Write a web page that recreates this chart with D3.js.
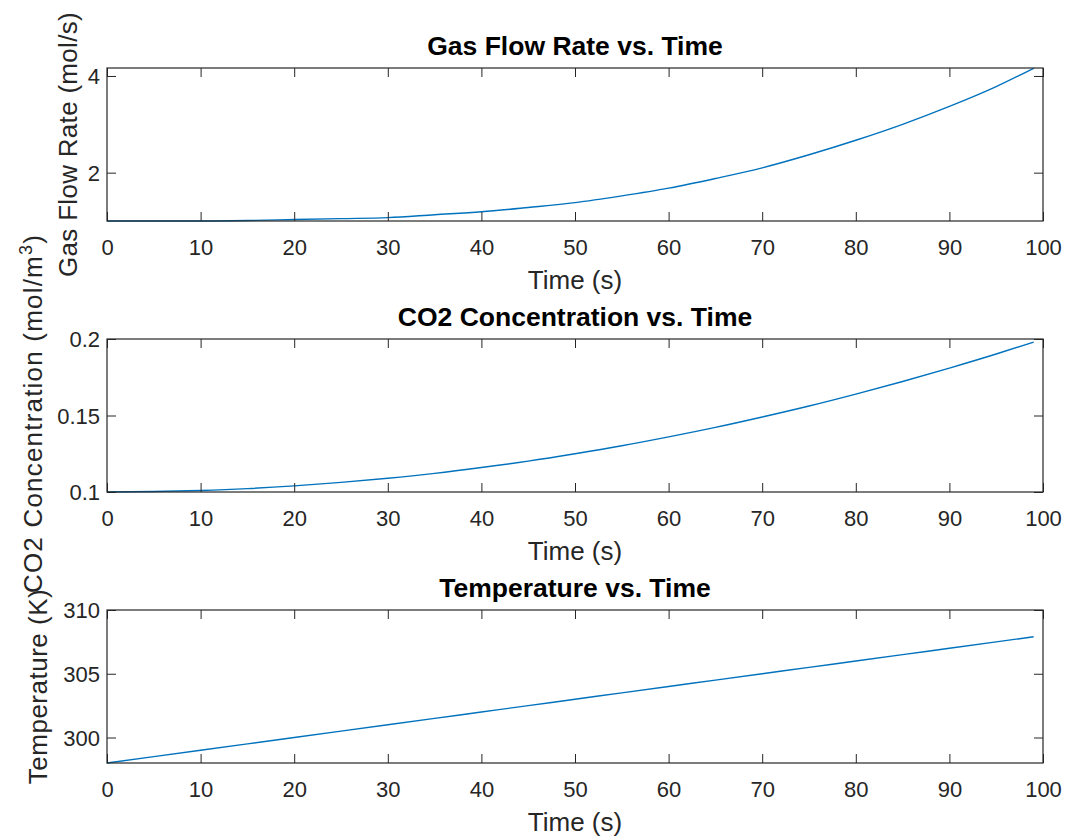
<!DOCTYPE html>
<html>
<head>
<meta charset="utf-8">
<script src="https://cdn.jsdelivr.net/npm/d3@7"></script>
<style>
  html, body { margin: 0; padding: 0; background: #fff; }
  text { font-family: "Liberation Sans", Arial, Helvetica, sans-serif; }
</style>
</head>
<body>
<svg id="chart" width="1070" height="839"></svg>
<script>
// ---- data ----
const time = [0, 5, 10, 15, 20, 25, 30, 35, 40, 45, 50, 55, 60, 65, 70, 75, 80, 85, 90, 95, 99];
const gasFlow = [1.00, 1.00, 1.00, 1.01, 1.03, 1.05, 1.07, 1.13, 1.19, 1.28, 1.38, 1.52, 1.68, 1.88, 2.10, 2.37, 2.67, 3.00, 3.37, 3.78, 4.16];
const co2Conc = [0.100, 0.1003, 0.101, 0.1022, 0.104, 0.1063, 0.109, 0.1122, 0.116, 0.1202, 0.125, 0.1302, 0.136, 0.1422, 0.149, 0.1562, 0.164, 0.1722, 0.181, 0.1902, 0.198];
const temperature = [298.0, 298.5, 299.0, 299.5, 300.0, 300.5, 301.0, 301.5, 302.0, 302.5, 303.0, 303.5, 304.0, 304.5, 305.0, 305.5, 306.0, 306.5, 307.0, 307.5, 307.9];

const xDomain = [0, 100];
const xTicks = [0, 10, 20, 30, 40, 50, 60, 70, 80, 90, 100];

const titles = ["Gas Flow Rate vs. Time", "CO2 Concentration vs. Time", "Temperature vs. Time"];
const xLabel = "Time (s)";

const gasDomain = [1, 4.165];
const gasTicks = [2, 4];
const co2Domain = [0.1, 0.2];
const co2Ticks = [0.1, 0.15, 0.2];
const tempDomain = [298, 310];
const tempTicks = [300, 305, 310];

// ---- layout ----
const svg = d3.select("#chart");
const left = 107, right = 1043;
const panelTops = [68, 339, 610];
const panelH = 153;
const axisColor = "#262626";
const lineColor = "#0072BD";
const tickLen = 9;

const panels = [
  { values: gasFlow, domain: gasDomain, ticks: gasTicks, fmt: d3.format("d"), yLabelX: 77, yShift: 0, ls: 0.3, label: [{t: "Gas Flow Rate (mol/s)"}] },
  { values: co2Conc, domain: co2Domain, ticks: co2Ticks, fmt: d => String(+d.toFixed(2)), yLabelX: 42, yShift: -2, ls: 1.2, label: [{t: "CO2 Concentration (mol/m"}, {t: "3", sup: true}, {t: ")"}] },
  { values: temperature, domain: tempDomain, ticks: tempTicks, fmt: d3.format("d"), yLabelX: 47, yShift: 0, ls: 0.5, label: [{t: "Temperature (K)"}] }
];

panels.forEach((p, i) => {
  const top = panelTops[i], bottom = top + panelH;
  const x = d3.scaleLinear().domain(xDomain).range([left, right]);
  const y = d3.scaleLinear().domain(p.domain).range([bottom, top]);
  const g = svg.append("g");

  g.append("rect").attr("x", left).attr("y", top).attr("width", right - left).attr("height", panelH).attr("fill", "#fff");

  const data = time.map((t, k) => [t, p.values[k]]);
  g.append("path")
    .datum(data)
    .attr("fill", "none")
    .attr("stroke", lineColor)
    .attr("stroke-width", 1.4)
    .attr("d", d3.line().x(d => x(d[0])).y(d => y(d[1])).curve(d3.curveMonotoneX));

  const xb = g.append("g").attr("transform", `translate(0,${bottom})`)
    .call(d3.axisBottom(x).tickValues(xTicks).tickSize(-tickLen).tickPadding(0).tickSizeOuter(0));
  xb.select(".domain").remove();
  xb.selectAll("line").attr("stroke", axisColor);
  xb.selectAll("text").attr("fill", axisColor).attr("font-size", 22).attr("dy", null).attr("y", 34);

  const xt = g.append("g").attr("transform", `translate(0,${top})`)
    .call(d3.axisTop(x).tickValues(xTicks).tickSize(-tickLen).tickFormat("").tickSizeOuter(0));
  xt.select(".domain").remove();
  xt.selectAll("line").attr("stroke", axisColor);

  const yl = g.append("g").attr("transform", `translate(${left},0)`)
    .call(d3.axisLeft(y).tickValues(p.ticks).tickFormat(p.fmt).tickSize(-tickLen).tickPadding(8).tickSizeOuter(0));
  yl.select(".domain").remove();
  yl.selectAll("line").attr("stroke", axisColor);
  yl.selectAll("text").attr("fill", axisColor).attr("font-size", 22).attr("x", -7).attr("dy", "0.36em");

  const yr = g.append("g").attr("transform", `translate(${right},0)`)
    .call(d3.axisRight(y).tickValues(p.ticks).tickFormat("").tickSize(-tickLen).tickSizeOuter(0));
  yr.select(".domain").remove();
  yr.selectAll("line").attr("stroke", axisColor);

  g.append("rect").attr("x", left).attr("y", top).attr("width", right - left).attr("height", panelH)
    .attr("fill", "none").attr("stroke", axisColor).attr("stroke-width", 1.2);

  g.append("text").attr("x", (left + right) / 2).attr("y", top - 13)
    .attr("text-anchor", "middle").attr("font-size", 26.5).attr("font-weight", "bold").attr("fill", "#000")
    .text(titles[i]);

  g.append("text").attr("x", (left + right) / 2).attr("y", bottom + 68)
    .attr("text-anchor", "middle").attr("font-size", 26).attr("fill", axisColor)
    .text(xLabel);

  const yt = g.append("text")
    .attr("transform", `translate(${p.yLabelX},${(top + bottom) / 2 + p.yShift}) rotate(-90)`)
    .attr("text-anchor", "middle").attr("font-size", 26).attr("letter-spacing", p.ls).attr("fill", axisColor);
  p.label.forEach(part => {
    const ts = yt.append("tspan").text(part.t);
    if (part.sup) ts.attr("font-size", 18).attr("dy", -10);
    else if (part.t === ")") ts.attr("dy", 10);
  });
});
</script>
</body>
</html>
